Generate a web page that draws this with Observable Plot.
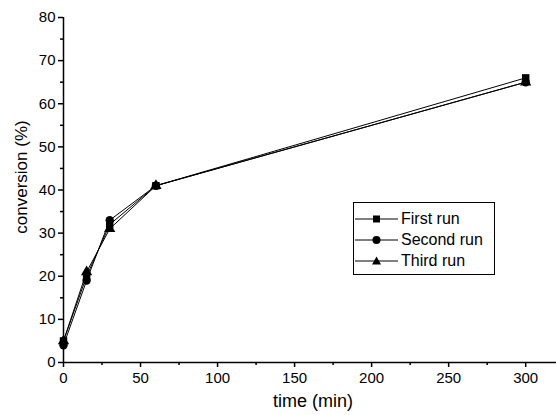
<!DOCTYPE html>
<html>
<head>
<meta charset="utf-8">
<script src="https://cdn.jsdelivr.net/npm/d3@7"></script>
<script src="https://cdn.jsdelivr.net/npm/@observablehq/plot@0.6"></script>
<style>
  html, body { margin: 0; padding: 0; background: #fff; }
  #wrap { position: relative; width: 556px; height: 415px; font-family: "Liberation Sans", Arial, sans-serif; }
  #legend { position: absolute; left: 353px; top: 202px; width: 142px; height: 73px; border: 1px solid #000; box-sizing: border-box; background: #fff; }
  .row { position: absolute; left: 0; height: 20px; display: flex; align-items: center; font-size: 16px; color: #000; }
  .row svg { margin-right: 2px; }
</style>
</head>
<body>
<div id="wrap"></div>
<script>
const times = [0, 15, 30, 60, 300];
const seriesNames = ["First run", "Second run", "Third run"];
const firstRun = [5, 20, 32, 41, 66];
const secondRun = [4, 19, 33, 41, 65];
const thirdRun = [5, 21, 31, 41, 65];
const symbols = ["square", "circle", "triangle"];
const xMajorTicks = [0, 50, 100, 150, 200, 250, 300];
const xMinorTicks = [25, 75, 125, 175, 225, 275];
const yMajorTicks = [0, 10, 20, 30, 40, 50, 60, 70, 80];
const yMinorTicks = [5, 15, 25, 35, 45, 55, 65, 75];

const allValues = [firstRun, secondRun, thirdRun];
const data = [];
allValues.forEach((vals, i) => vals.forEach((v, j) => data.push({series: seriesNames[i], t: times[j], c: v, sym: symbols[i]})));

const font = '"Liberation Sans", Arial, sans-serif';
const chart = Plot.plot({
  width: 556,
  height: 415,
  marginLeft: 63,
  marginTop: 17,
  marginBottom: 53,
  marginRight: 0,
  style: {fontFamily: font, fontSize: "15px", background: "#fff", color: "#000"},
  x: {domain: [0, 320]},
  y: {domain: [0, 80]},
  symbol: {domain: seriesNames, range: symbols},
  marks: [
    Plot.ruleY([0], {stroke: "#000", strokeWidth: 1.5}),
    Plot.ruleX([0], {stroke: "#000", strokeWidth: 1.5, y1: 0, y2: 80}),
    Plot.axisX(xMajorTicks, {tickSize: 5, tickPadding: 5, fontSize: 15, stroke: "#000", strokeWidth: 1.5, label: null}),
    Plot.axisX(xMinorTicks, {tickSize: 3, tickFormat: () => "", stroke: "#000", strokeWidth: 1.5, label: null}),
    Plot.axisY(yMajorTicks, {tickSize: 5, tickPadding: 3, fontSize: 15, stroke: "#000", strokeWidth: 1.5, label: null}),
    Plot.axisY(yMinorTicks, {tickSize: 3, tickFormat: () => "", stroke: "#000", strokeWidth: 1.5, label: null}),
    Plot.text(["time (min)"], {frameAnchor: "bottom", dx: 3, dy: 44, fontSize: 18, text: d => d}),
    Plot.text(["conversion (%)"], {frameAnchor: "left", textAnchor: "middle", dx: -42, dy: -13, rotate: -90, fontSize: 17, text: d => d}),
    Plot.line(data, {x: "t", y: "c", z: "series", stroke: "#000", strokeWidth: 1}),
    Plot.dot(data, {x: "t", y: "c", symbol: "series", fill: "#000", stroke: "none", r: 4.2})
  ]
});
const wrap = document.getElementById("wrap");
wrap.appendChild(chart);

const legend = document.createElement("div");
legend.id = "legend";
const legendSym = {square: '<rect x="19" y="3.5" width="7" height="7" fill="#000"/>',
  circle: '<circle cx="22.5" cy="7" r="4" fill="#000"/>',
  triangle: '<path d="M22.5,2.5 L27,10.5 L18,10.5 Z" fill="#000"/>'};
seriesNames.forEach((name, i) => {
  const row = document.createElement("div");
  row.className = "row";
  row.style.top = (6 + i * 21) + "px";
  row.innerHTML = `<svg width="45" height="14"><line x1="1" x2="44" y1="7" y2="7" stroke="#000" stroke-width="1"/>${legendSym[symbols[i]]}</svg><span>${name}</span>`;
  legend.appendChild(row);
});
wrap.appendChild(legend);
</script>
</body>
</html>
